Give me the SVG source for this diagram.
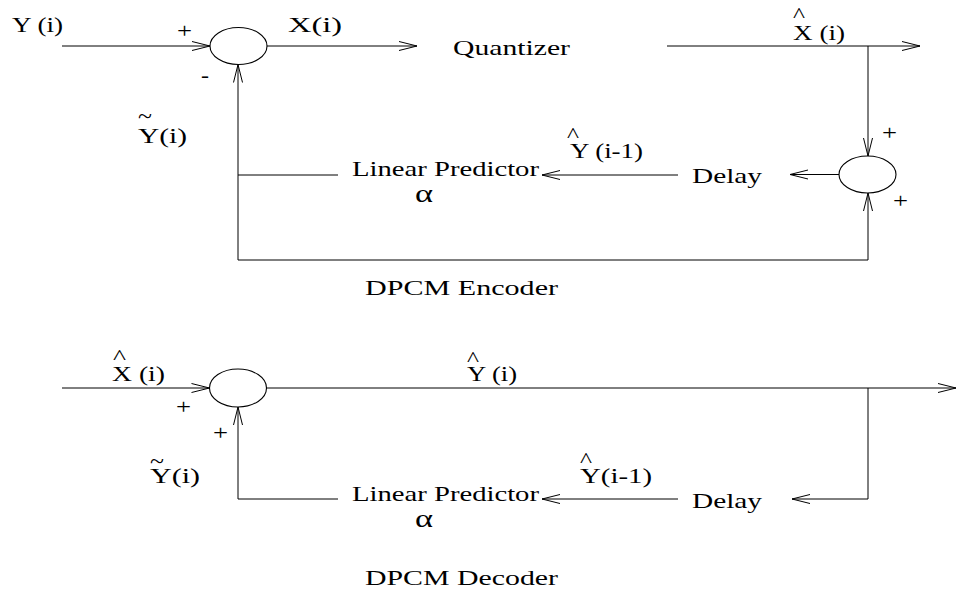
<svg xmlns="http://www.w3.org/2000/svg" width="959" height="590" viewBox="0 0 959 590">
<defs>
<style>
text{font-family:"Liberation Serif","Times New Roman",serif;font-size:22px;fill:#000}
.pm{font-size:20px}
.al{font-size:26px}
.ac{font-size:21px}
.ln{fill:none;stroke:#000;stroke-width:1}
.sum{fill:none;stroke:#000;stroke-width:1.1}
</style>
<marker id="arr" viewBox="-20 -6 22 12" refX="0" refY="0" markerWidth="22" markerHeight="12" orient="auto" markerUnits="userSpaceOnUse">
<path d="M-18,-4.5 L0,0 L-18,4.5" fill="none" stroke="#000" stroke-width="1"/>
</marker>
</defs>
<rect width="959" height="590" fill="#fff"/>

<g id="connectors">
<path class="ln" d="M62,46 H210" marker-end="url(#arr)"/>
<path class="ln" d="M267,46 H417" marker-end="url(#arr)"/>
<path class="ln" d="M667,46 H920" marker-end="url(#arr)"/>
<path class="ln" d="M868,46 V156" marker-end="url(#arr)"/>
<path class="ln" d="M839,174.5 H790" marker-end="url(#arr)"/>
<path class="ln" d="M678,175 H542" marker-end="url(#arr)"/>
<path class="ln" d="M338,175 H238"/>
<path class="ln" d="M238,260 V64.5" marker-end="url(#arr)"/>
<path class="ln" d="M238,260 H868 V193" marker-end="url(#arr)"/>

<path class="ln" d="M62,388 H209.5" marker-end="url(#arr)"/>
<path class="ln" d="M267,388 H956" marker-end="url(#arr)"/>
<path class="ln" d="M868,388 V499 H792" marker-end="url(#arr)"/>
<path class="ln" d="M678,499 H542" marker-end="url(#arr)"/>
<path class="ln" d="M338,499 H238 V407" marker-end="url(#arr)"/>
</g>

<g id="enc-sum-input">
<ellipse class="sum" cx="238.5" cy="46" rx="28.5" ry="18.5"/>
<text class="pm" x="177" y="38" textLength="15" lengthAdjust="spacingAndGlyphs">+</text>
<text class="pm" x="201" y="82" textLength="8" lengthAdjust="spacingAndGlyphs">-</text>
</g>
<g id="enc-quantizer">
<text x="453" y="55" textLength="117" lengthAdjust="spacingAndGlyphs">Quantizer</text>
</g>
<g id="enc-sum-recon">
<ellipse class="sum" cx="867.5" cy="174.5" rx="28.5" ry="18.5"/>
<text class="pm" x="882" y="140" textLength="15" lengthAdjust="spacingAndGlyphs">+</text>
<text class="pm" x="893" y="208" textLength="15" lengthAdjust="spacingAndGlyphs">+</text>
</g>
<g id="enc-delay">
<text x="692" y="183" textLength="70" lengthAdjust="spacingAndGlyphs">Delay</text>
</g>
<g id="enc-predictor">
<text x="352" y="176" textLength="187" lengthAdjust="spacingAndGlyphs">Linear Predictor</text>
<text class="al" x="415" y="202" textLength="18" lengthAdjust="spacingAndGlyphs">α</text>
</g>
<g id="enc-labels">
<text x="12" y="32" textLength="51" lengthAdjust="spacingAndGlyphs">Y (i)</text>
<text x="288" y="32" textLength="54" lengthAdjust="spacingAndGlyphs">X(i)</text>
<text class="ac" x="793" y="22" textLength="12" lengthAdjust="spacingAndGlyphs">^</text>
<text x="793" y="40" textLength="52" lengthAdjust="spacingAndGlyphs">X (i)</text>
<text class="ac" x="138" y="123" textLength="14" lengthAdjust="spacingAndGlyphs">~</text>
<text x="138" y="143" textLength="49" lengthAdjust="spacingAndGlyphs">Y(i)</text>
<text class="ac" x="567" y="142" textLength="12" lengthAdjust="spacingAndGlyphs">^</text>
<text x="570" y="158" textLength="73" lengthAdjust="spacingAndGlyphs">Y (i-1)</text>
</g>
<g id="enc-title">
<text x="365" y="295" textLength="193" lengthAdjust="spacingAndGlyphs">DPCM Encoder</text>
</g>

<g id="dec-sum">
<ellipse class="sum" cx="238" cy="388" rx="28.5" ry="19"/>
<text class="pm" x="176" y="414" textLength="15" lengthAdjust="spacingAndGlyphs">+</text>
<text class="pm" x="213" y="440" textLength="15" lengthAdjust="spacingAndGlyphs">+</text>
</g>
<g id="dec-predictor">
<text x="352" y="501" textLength="187" lengthAdjust="spacingAndGlyphs">Linear Predictor</text>
<text class="al" x="415" y="527" textLength="18" lengthAdjust="spacingAndGlyphs">α</text>
</g>
<g id="dec-delay">
<text x="692" y="508" textLength="70" lengthAdjust="spacingAndGlyphs">Delay</text>
</g>
<g id="dec-labels">
<text class="ac" x="113" y="364" textLength="13" lengthAdjust="spacingAndGlyphs">^</text>
<text x="112" y="381" textLength="53" lengthAdjust="spacingAndGlyphs">X (i)</text>
<text class="ac" x="467" y="366" textLength="12" lengthAdjust="spacingAndGlyphs">^</text>
<text x="467" y="381" textLength="50" lengthAdjust="spacingAndGlyphs">Y (i)</text>
<text class="ac" x="150" y="468" textLength="14" lengthAdjust="spacingAndGlyphs">~</text>
<text x="150" y="483" textLength="50" lengthAdjust="spacingAndGlyphs">Y(i)</text>
<text class="ac" x="580" y="467" textLength="12" lengthAdjust="spacingAndGlyphs">^</text>
<text x="580" y="483" textLength="72" lengthAdjust="spacingAndGlyphs">Y(i-1)</text>
</g>
<g id="dec-title">
<text x="365" y="585" textLength="193" lengthAdjust="spacingAndGlyphs">DPCM Decoder</text>
</g>
</svg>
